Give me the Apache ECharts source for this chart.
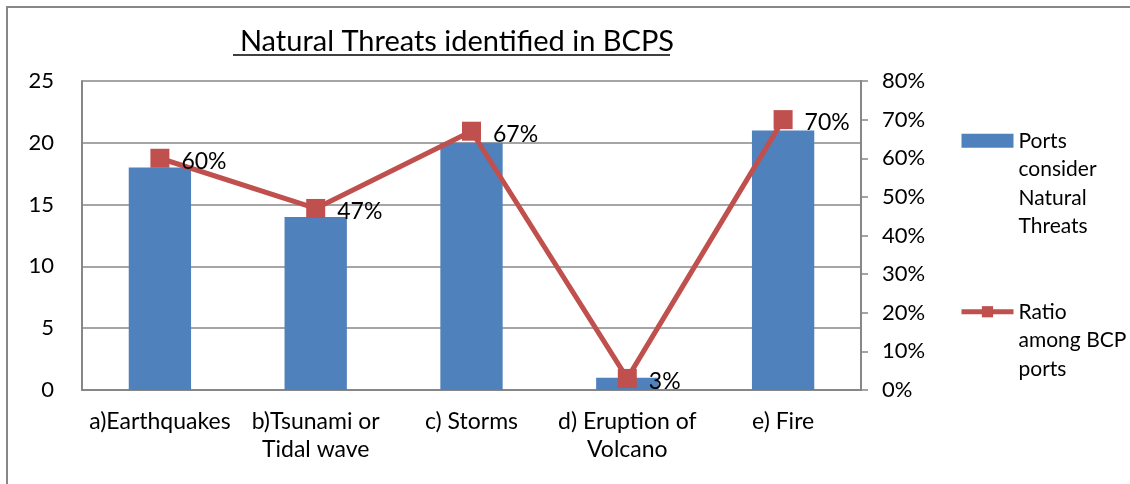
<!DOCTYPE html>
<html>
<head>
<meta charset="utf-8">
<script src="https://cdn.jsdelivr.net/npm/echarts@6/dist/echarts.min.js"></script>
<style>
  html, body { margin: 0; padding: 0; background: #ffffff; }
  #chart { width: 1130px; height: 484px; }
</style>
</head>
<body>
<div id="chart"></div>
<script>
// Natural threats considered by ports in their business continuity plans
const categories = [
  'a)Earthquakes',
  'b)Tsunami or\nTidal wave',
  'c) Storms',
  'd) Eruption of\nVolcano',
  'e) Fire'
];
const portsCount = [18, 14, 20, 1, 21];                   // number of ports
const ratioAmongPorts = [0.60, 0.47, 0.67, 0.03, 0.70];   // share of BCP ports

const leftTicks = { min: 0, max: 25, interval: 5 };
const rightTicks = { min: 0, max: 0.8, interval: 0.1 };

const barName = 'Ports consider Natural Threats';
const lineName = 'Ratio among BCP ports';
const legendLines = {
  [barName]: ['Ports', 'consider', 'Natural', 'Threats'],
  [lineName]: ['Ratio', 'among BCP', 'ports']
};

const FONT = 'Lato, "Open Sans", sans-serif';
const GRAY = '#878787';
const LH = 28.5;

const chart = echarts.init(document.getElementById('chart'), null, { renderer: 'canvas' });

const pct = v => Math.round(v * 100) + '%';

// Legend text hangs from the icon: blank lines ahead of the wrapped name
// keep the first visible line level with the legend icon.
const legendText = name => {
  const lines = legendLines[name];
  return new Array(lines.length - 1).fill('').concat(lines).join('\n');
};

chart.setOption({
  animation: false,
  backgroundColor: '#ffffff',
  textStyle: { fontFamily: FONT, color: '#000' },
  title: {
    text: 'Natural Threats identified in BCPS',
    left: 452,
    textAlign: 'center',
    top: 22,
    textStyle: { fontFamily: FONT, fontSize: 29, fontWeight: 'normal', color: '#000' }
  },
  graphic: [
    {
      type: 'rect',
      shape: { x: 7, y: 7, width: 1140, height: 500 },
      style: { fill: 'none', stroke: GRAY, lineWidth: 2 },
      silent: true
    },
    {
      type: 'line',
      shape: { x1: 233, y1: 55, x2: 670, y2: 55 },
      style: { stroke: '#000', lineWidth: 1.5 },
      silent: true
    }
  ],
  legend: {
    orient: 'vertical',
    left: 954,
    top: 36,
    itemGap: 0,
    itemWidth: 52,
    itemHeight: 14,
    formatter: legendText,
    textStyle: { fontFamily: FONT, fontSize: 21, color: '#000', lineHeight: LH },
    data: [
      { name: barName, icon: 'rect' },
      { name: lineName, lineStyle: { width: 5 } }
    ]
  },
  grid: { left: 82, right: 269, top: 81, bottom: 94, containLabel: false },
  xAxis: {
    type: 'category',
    data: categories,
    axisLine: { show: true, lineStyle: { color: GRAY, width: 2 } },
    axisTick: { show: false },
    axisLabel: {
      interval: 0, margin: 17, fontFamily: FONT, fontSize: 23,
      color: '#000', lineHeight: LH
    }
  },
  yAxis: [
    {
      type: 'value',
      min: leftTicks.min, max: leftTicks.max, interval: leftTicks.interval,
      axisLine: { show: true, lineStyle: { color: GRAY, width: 2 } },
      axisTick: { show: false },
      splitLine: { show: true, lineStyle: { color: GRAY, width: 1.5 } },
      axisLabel: { margin: 28, fontFamily: FONT, fontSize: 22, color: '#000' }
    },
    {
      type: 'value',
      min: rightTicks.min, max: rightTicks.max, interval: rightTicks.interval,
      position: 'right',
      axisLine: { show: true, lineStyle: { color: GRAY, width: 2 } },
      axisTick: { show: true, length: 7, inside: false, lineStyle: { color: GRAY, width: 1.5 } },
      splitLine: { show: false },
      axisLabel: { margin: 21, fontFamily: FONT, fontSize: 22, color: '#000', formatter: pct }
    }
  ],
  series: [
    {
      name: barName,
      type: 'bar',
      yAxisIndex: 0,
      data: portsCount,
      barWidth: '40%',
      itemStyle: { color: '#4F81BD' }
    },
    {
      name: lineName,
      type: 'line',
      yAxisIndex: 1,
      data: ratioAmongPorts,
      symbol: 'rect',
      symbolSize: 19,
      lineStyle: { color: '#C0504D', width: 5 },
      itemStyle: { color: '#C0504D' },
      label: {
        show: true,
        position: 'right',
        distance: 12,
        offset: [0, 3],
        fontFamily: FONT,
        fontSize: 23,
        color: '#000',
        formatter: p => pct(p.value)
      },
      z: 3
    }
  ]
});
</script>
</body>
</html>
